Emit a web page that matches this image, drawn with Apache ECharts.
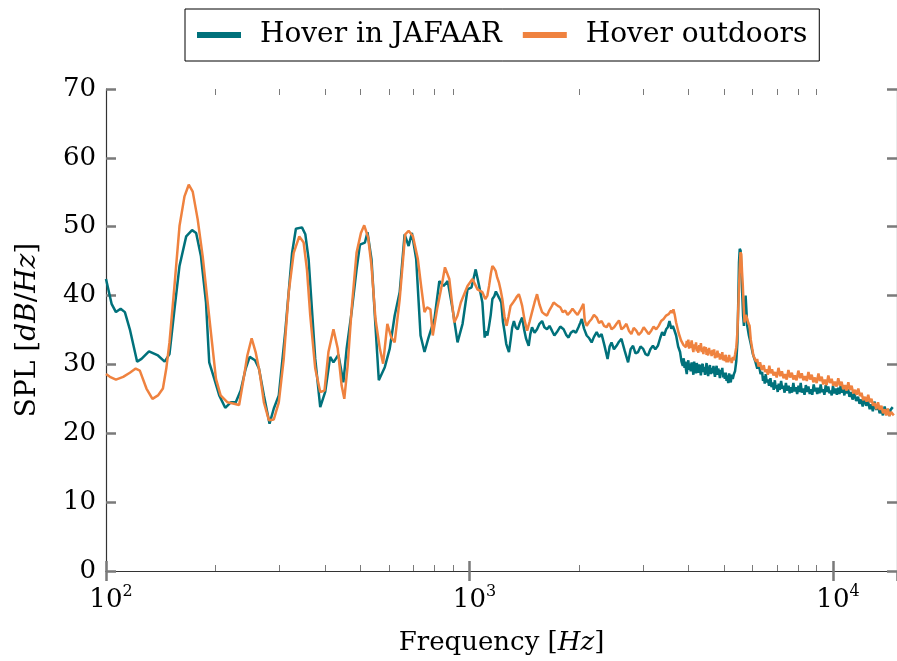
<!DOCTYPE html>
<html>
<head>
<meta charset="utf-8">
<script src="https://cdn.jsdelivr.net/npm/echarts@6/dist/echarts.min.js"></script>
<style>
  html, body { margin: 0; padding: 0; background: #fff; }
  #spl-chart { width: 897px; height: 661px; }
</style>
</head>
<body>
<div id="spl-chart"></div>
<script>
// [frequency Hz, SPL dB/Hz]
var jafaarPoints = [
    [100,42.4],[103.6,38.8],[106.5,37.6],[109.7,38.1],[112.7,37.6],[116.3,35.1],[121.8,30.4],[125.2,30.8],
    [131.3,31.9],[139,31.3],[145,30.4],[149.5,31.5],[154.3,38.0],[159.3,44.3],[166.2,48.6],[172.5,49.5],
    [177,49.1],[182.5,45.7],[188.4,39.0],[192.3,30.3],[198.6,27.9],[204.9,25.5],[212.8,23.7],[220.4,24.5],
    [227.5,24.5],[234.7,26.2],[242.3,29.4],[248.5,31.1],[257,30.6],[263.5,29.4],[271.9,25.5],[281.8,21.4],
    [289.5,23.6],[298.8,25.5],[311.7,35.1],[325,46.2],[333,49.7],[346,49.9],[353.5,48.9],[360.9,45.3],
    [368.6,38.0],[376.4,30.8],[388.5,23.8],[400.9,26.0],[413.7,31.1],[422.4,30.3],[435.9,31.4],[449.8,27.4],
    [459.2,32.3],[473.9,37.6],[489,43.8],[499.6,47.4],[515.6,47.7],[524,49.2],[537.5,45.3],[551.2,35.6],
    [563,27.7],[584.7,29.6],[603.4,32.3],[622.6,37.1],[642.7,40.5],[663,48.9],[680,47.2],[694.3,49.1],
    [713.4,45.3],[733.4,34.2],[752,31.8],[771.3,33.9],[801,36.6],[826,42.1],[849,41.4],[871,42.1],
    [898.7,38.0],[927,33.2],[957,35.9],[987.5,40.9],[1013,41.2],[1040,43.8],[1063,41.4],[1085,39.0],
    [1101,33.9],[1110,34.8],[1120,34.2],[1132,35.6],[1144,37.2],[1156,39.5],[1170,39.9],[1182,40.6],
    [1193,40.5],[1208,39.6],[1223,39.0],[1236,36.2],[1249,34.7],[1262,33.0],[1272,32.4],[1284,31.8],
    [1298,33.6],[1310,35.3],[1325,36.3],[1340,35.4],[1358,35.1],[1375,36.0],[1396,36.8],[1412,35.2],
    [1430,33.8],[1455,32.7],[1470,34.4],[1486,35.4],[1510,34.6],[1534,35.1],[1558,35.9],[1584,36.3],
    [1607,35.4],[1634,35.1],[1660,35.6],[1686,34.9],[1712,34.2],[1740,34.7],[1777,35.5],[1815,35.1],
    [1845,34.3],[1873,33.9],[1900,34.6],[1932,34.9],[1962,34.6],[1994,35.4],[2015,36.0],[2036,36.6],
    [2066,35.2],[2101,34.2],[2135,33.8],[2168,33.2],[2200,34.0],[2238,34.7],[2272,34.0],[2309,34.4],
    [2350,32.8],[2398,30.8],[2430,32.6],[2459,33.2],[2497,32.2],[2538,32.7],[2578,33.3],[2618,33.7],
    [2672,32.0],[2731,30.3],[2775,32.2],[2818,32.7],[2862,31.6],[2909,31.8],[2955,32.6],[3001,32.3],
    [3050,31.5],[3097,31.3],[3145,32.2],[3196,32.7],[3245,32.2],[3298,32.7],[3345,33.8],[3389,34.7],
    [3430,34.2],[3475,35.1],[3512,35.4],[3549,36.3],[3590,35.2],[3626,35.6],[3660,35.0],[3702,34.2],
    [3750,32.6],[3796,31.8],[3830,30.4],
    [3862,29.8],[3885,30.9],[3905,29.5],[3925,30.4],[3940,29.3],[3960,28.6],[3980,29.9],[4000,30.6],
    [4020,29.2],[4040,30.1],[4060,29.0],[4085,30.3],[4111,29.4],[4130,28.5],[4150,30.4],[4175,29.6],
    [4200,28.7],[4220,30.2],[4240,29.5],[4262,28.8],[4286,30.0],[4310,29.3],[4330,28.4],[4355,29.8],
    [4380,30.1],[4400,28.9],[4420,29.6],[4445,28.5],[4467,29.5],[4490,30.2],[4510,29.0],[4535,28.3],
    [4560,29.4],[4585,29.9],[4610,28.6],[4635,29.5],[4663,28.7],[4690,29.8],[4710,28.9],[4735,28.2],
    [4760,29.3],[4785,29.8],[4810,28.5],[4835,29.4],[4861,28.8],[4885,28.0],[4910,29.2],[4935,28.6],
    [4960,29.5],[4985,28.1],[5010,28.8],[5040,27.9],[5070,28.8],[5095,27.6],[5120,28.4],[5150,27.3],
    [5180,28.7],[5205,27.9],[5233,27.4],[5265,28.5],[5300,27.9],[5340,28.6],[5376,29.0],
    [5420,30.5],[5458,33.2],[5490,39.5],[5513,44.8],[5540,46.8],[5571,46.5],[5600,43.0],[5630,40.0],
    [5660,37.0],[5689,35.6],[5720,38.5],[5749,40.0],[5780,37.8],[5808,35.6],[5870,34.2],[5930,33.2],
    [6020,31.5],
    [6124,30.3],[6190,29.4],[6250,30.0],[6320,28.6],[6383,28.9],[6420,27.6],[6450,28.3],[6490,27.2],
    [6530,28.6],[6575,27.4],[6620,27.8],[6670,26.9],[6729,28.0],[6775,26.7],[6820,27.4],[6870,26.3],
    [6920,27.7],[6960,26.5],[7000,27.0],[7045,26.0],[7089,27.2],[7140,26.3],[7200,27.6],[7250,26.5],
    [7300,26.9],[7360,25.9],[7420,27.3],[7480,26.2],[7551,26.9],[7600,25.8],[7650,26.7],[7710,25.9],
    [7780,27.3],[7840,26.1],[7900,26.7],[7970,25.7],[8037,26.9],[8090,26.0],[8150,27.3],[8210,25.9],
    [8280,26.5],[8350,25.6],[8420,27.0],[8490,26.0],[8559,26.8],[8630,25.7],[8700,26.4],[8770,25.6],
    [8850,27.1],[8920,26.1],[8980,26.6],[9050,25.7],[9116,26.6],[9180,25.8],[9250,27.1],[9320,26.0],
    [9400,26.4],[9470,25.6],[9550,27.0],[9630,26.0],[9706,26.8],[9780,25.8],[9850,26.2],[9920,25.5],
    [10000,26.9],[10080,25.8],[10170,26.5],[10250,25.6],[10340,26.6],[10420,25.7],[10500,27.0],[10580,25.9],
    [10670,26.5],[10750,25.5],[10840,26.9],[10920,25.8],[11010,26.4],[11100,25.3],[11200,26.0],[11320,24.9],
    [11450,25.8],[11580,24.7],[11720,25.3],[11830,24.3],[11950,24.9],[12070,23.9],[12200,25.1],[12340,24.0],
    [12490,24.6],[12620,23.5],[12750,24.2],[12870,23.2],[13000,24.6],[13150,23.4],[13300,24.0],[13440,22.9],
    [13580,23.6],[13720,22.6],[13870,23.9],[14010,22.8],[14160,23.5],[14280,22.5],[14400,23.4],[14600,23.8]
];

var outdoorPoints = [
    [100,28.6],[102.5,28.2],[106.5,27.8],[111.5,28.2],[116.3,28.8],[120.7,29.4],[123.9,29.1],[129.2,26.5],
    [134.2,25.0],[139,25.5],[143.4,26.5],[146.5,29.4],[149.5,33.2],[154.3,41.4],[159.3,50.1],[164.4,54.4],
    [168.9,56.1],[173.2,55.1],[178.7,51.1],[184.5,45.7],[190.4,39.0],[195.7,33.2],[200.7,27.9],[206.7,25.5],
    [215.9,24.5],[225.2,24.3],[232.4,24.1],[238.2,27.4],[244.8,31.3],[251.6,33.8],[258,31.8],[264.6,28.9],
    [271.9,24.5],[280.6,21.9],[289.5,22.0],[298.8,24.5],[308.3,30.8],[318.2,40.5],[328.4,46.2],[340.2,48.6],
    [349.7,47.7],[357.1,43.8],[364.7,37.1],[376.4,29.4],[388.5,26.0],[399.1,26.2],[409.2,31.8],[422.4,35.1],
    [434,32.3],[445,26.9],[452.5,25.0],[462.1,29.8],[473.9,38.0],[489,46.2],[502.7,49.1],[513.3,50.2],
    [526.4,48.4],[537.5,44.3],[551.2,36.6],[566.7,32.3],[578.6,30.1],[594.3,35.9],[609.5,33.9],[622.6,33.2],
    [642.7,39.5],[665.3,48.9],[680,49.4],[698.8,48.6],[721,45.3],[736,41.4],[752,37.6],[764.5,38.3],
    [780.8,38.0],[792.5,34.2],[814.2,38.0],[835,40.9],[856,44.1],[880,42.4],[908,36.1],[927,37.1],
    [946.6,39.0],[987.5,41.4],[1019,42.4],[1052,40.9],
    [1085,40.5],[1105,39.5],[1120,40.0],[1132,41.4],[1145,43.2],[1156,44.3],[1168,44.0],[1180,43.6],
    [1192,42.6],[1205,41.9],[1218,40.8],[1231,39.5],[1248,37.0],[1265,35.6],[1280,36.9],[1297,38.5],
    [1318,39.0],[1338,39.5],[1352,39.9],[1367,40.2],[1382,39.4],[1396,38.5],[1418,36.4],[1441,34.9],
    [1463,36.2],[1486,37.6],[1510,39.0],[1534,40.2],[1558,38.7],[1584,37.6],[1608,37.3],[1634,37.1],
    [1660,37.9],[1686,38.5],[1704,39.0],[1722,39.2],[1750,38.5],[1777,38.3],[1805,37.6],[1834,37.8],
    [1862,37.2],[1892,37.6],[1920,38.1],[1952,37.6],[1983,37.2],[2014,37.8],[2036,38.3],[2058,38.8],
    [2075,36.4],[2101,35.6],[2135,36.2],[2168,36.6],[2200,37.2],[2238,36.8],[2272,36.0],[2309,36.3],
    [2345,35.6],[2383,35.4],[2420,36.0],[2459,35.1],[2500,35.4],[2538,35.9],[2578,36.4],[2618,35.1],
    [2660,35.4],[2702,35.9],[2745,34.9],[2788,34.4],[2830,35.3],[2877,34.9],[2920,34.3],[2969,34.7],
    [3015,35.4],[3064,34.9],[3110,34.4],[3162,34.9],[3210,35.5],[3263,35.1],[3315,35.6],[3367,36.3],
    [3420,36.6],[3475,37.1],[3530,37.3],[3586,37.8],[3615,37.5],[3639,38.0],[3670,37.2],[3702,36.1],
    [3760,34.6],[3819,33.5],[3880,32.8],
    [3940,32.5],[3960,33.4],[3980,32.6],[4000,33.6],[4020,32.3],[4040,33.2],[4060,32.4],[4085,33.5],
    [4111,32.3],[4130,31.8],[4150,32.9],[4175,32.2],[4200,33.2],[4220,31.9],[4240,32.6],[4262,31.7],
    [4286,32.8],[4310,32.0],[4330,33.1],[4355,31.8],[4380,32.4],[4400,31.5],[4420,32.6],[4445,31.9],
    [4467,32.5],[4490,31.4],[4510,32.2],[4535,31.3],[4560,32.4],[4585,31.6],[4610,32.0],[4635,31.2],
    [4663,32.1],[4690,31.4],[4710,32.2],[4735,30.9],[4760,31.7],[4785,31.0],[4810,32.0],[4835,31.1],
    [4861,31.6],[4885,30.7],[4910,31.5],[4935,30.8],[4960,31.8],[4985,30.6],[5010,31.3],[5040,30.5],
    [5070,31.4],[5095,30.3],[5120,31.0],[5150,30.3],[5180,31.4],[5205,30.5],[5233,30.9],[5265,30.2],
    [5300,31.1],[5340,30.6],[5376,31.4],
    [5420,32.5],[5458,34.7],[5500,39.5],[5537,43.8],[5565,46.3],[5594,46.0],[5620,43.5],[5649,41.4],
    [5680,38.4],[5712,36.1],[5760,37.2],[5808,36.6],[5850,36.0],[5896,35.6],[5940,33.6],
    [5995,32.3],[6040,31.3],[6090,31.5],[6140,30.4],[6185,30.8],[6240,29.7],[6300,30.3],[6370,29.2],
    [6450,29.9],[6500,28.9],[6560,29.3],[6620,28.5],[6680,29.8],[6740,28.7],[6798,29.3],[6860,28.4],
    [6930,28.9],[7000,28.1],[7080,29.5],[7160,28.3],[7236,29.0],[7310,28.0],[7380,28.6],[7460,27.8],
    [7540,29.2],[7620,28.1],[7705,28.8],[7780,27.8],[7850,28.4],[7940,27.7],[8030,29.1],[8120,28.0],
    [8204,28.7],[8290,27.7],[8380,28.3],[8470,27.6],[8560,28.9],[8650,27.8],[8739,28.5],[8830,27.4],
    [8920,28.1],[9020,27.3],[9120,28.7],[9210,27.6],[9311,28.2],[9400,27.1],[9500,27.8],[9600,27.0],
    [9710,28.4],[9810,27.3],[9917,27.9],[10020,26.9],[10120,27.5],[10230,26.8],[10340,28.0],[10450,26.9],
    [10560,27.5],[10670,26.4],[10780,27.0],[10900,26.2],[11020,27.4],[11130,26.3],[11250,26.9],[11370,25.8],
    [11500,26.3],[11620,25.6],[11740,26.5],[11860,25.4],[11980,25.9],[12110,24.8],[12240,25.3],[12370,24.6],
    [12500,25.6],[12630,24.5],[12760,25.0],[12890,24.0],[13020,24.4],[13160,23.5],[13300,24.5],[13440,23.4],
    [13590,24.0],[13730,22.9],[13870,23.5],[14010,22.6],[14150,23.6],[14300,22.5],[14450,23.1],[14700,22.6]
];

var seriesNames = ['Hover in JAFAAR', 'Hover outdoors'];
var seriesColors = ['#00717b', '#ef823f'];
var minorTicks = [200, 300, 400, 500, 600, 700, 800, 900, 2000, 3000, 4000, 5000, 6000, 7000, 8000, 9000];
var exponentLabels = { 100: '2', 1000: '3', 10000: '4' };

var serif = 'DejaVu Serif';
var tickGray = '#7a7a7a';

var chart = echarts.init(document.getElementById('spl-chart'));

// log axis minor ticks (2..9 x decade), top and bottom, inward
function minorTickItem(params, api) {
    var pt = api.coord([api.value(0), 10]);
    var cs = params.coordSys;
    var x = Math.round(pt[0]) + 0.5;
    var style = { stroke: tickGray, lineWidth: 1 };
    return {
        type: 'group',
        children: [
            { type: 'line', shape: { x1: x, y1: cs.y + cs.height, x2: x, y2: cs.y + cs.height - 6 }, style: style },
            { type: 'line', shape: { x1: x, y1: cs.y, x2: x, y2: cs.y + 6 }, style: style }
        ]
    };
}

var axisLine = { show: true, lineStyle: { color: '#333', width: 1.2 } };
var majorTick = { show: true, inside: true, length: 10, lineStyle: { color: tickGray, width: 2.5 } };

var option = {
    animation: false,
    backgroundColor: '#fff',
    legend: {
        data: seriesNames,
        left: 185,
        top: 9,
        padding: [12, 12, 12, 12],
        borderColor: '#000',
        borderWidth: 1,
        borderRadius: 0,
        icon: 'rect',
        itemWidth: 44,
        itemHeight: 6,
        itemGap: 21,
        textStyle: { fontFamily: serif, fontSize: 28, color: '#000', padding: [0, 0, 0, 14] }
    },
    grid: { left: 106, top: 89, right: -5, bottom: 88, containLabel: false },
    xAxis: [{
        type: 'log',
        logBase: 10,
        min: 100,
        max: 15000,
        position: 'bottom',
        name: 'Frequency [{i|Hz}]',
        nameLocation: 'middle',
        nameGap: 59,
        nameTextStyle: {
            fontFamily: serif, fontSize: 26, color: '#000',
            rich: { i: { fontFamily: serif, fontSize: 26, fontStyle: 'italic', color: '#000' } }
        },
        axisLine: axisLine,
        axisTick: majorTick,
        splitLine: { show: false },
        axisLabel: {
            margin: 13,
            showMaxLabel: false,
            formatter: function (v) {
                var e = exponentLabels[Math.round(v)];
                return e ? '{b|10}{s|' + e + '}' : '';
            },
            rich: {
                b: { fontFamily: serif, fontSize: 26, color: '#000', padding: [0, 0, 0, 10], lineHeight: 32 },
                s: { fontFamily: serif, fontSize: 16, color: '#000', verticalAlign: 'top', lineHeight: 14 }
            }
        }
    }, {
        type: 'log',
        logBase: 10,
        min: 100,
        max: 15000,
        position: 'top',
        axisLine: axisLine,
        axisTick: majorTick,
        axisLabel: { show: false },
        splitLine: { show: false }
    }],
    yAxis: [{
        type: 'value',
        min: 0,
        max: 70,
        interval: 10,
        position: 'left',
        name: 'SPL [{i|dB}/{i|Hz}]',
        nameLocation: 'middle',
        nameRotate: 90,
        nameGap: 64,
        nameTextStyle: {
            fontFamily: serif, fontSize: 28, color: '#000',
            rich: { i: { fontFamily: serif, fontSize: 28, fontStyle: 'italic', color: '#000' } }
        },
        axisLine: axisLine,
        axisTick: majorTick,
        splitLine: { show: false },
        axisLabel: { fontFamily: serif, fontSize: 26, color: '#000', margin: 10 }
    }, {
        type: 'value',
        min: 0,
        max: 70,
        interval: 10,
        position: 'right',
        axisLine: axisLine,
        axisTick: majorTick,
        axisLabel: { show: false },
        splitLine: { show: false }
    }],
    series: [{
        name: seriesNames[0],
        type: 'line',
        data: jafaarPoints,
        showSymbol: false,
        color: seriesColors[0],
        lineStyle: { width: 2.5, color: seriesColors[0] },
        z: 3
    }, {
        name: seriesNames[1],
        type: 'line',
        data: outdoorPoints,
        showSymbol: false,
        color: seriesColors[1],
        lineStyle: { width: 2.5, color: seriesColors[1] },
        z: 4
    }, {
        name: 'minor ticks',
        type: 'custom',
        silent: true,
        clip: false,
        renderItem: minorTickItem,
        data: minorTicks.map(function (f) { return [f, 10]; }),
        z: 5
    }]
};

chart.setOption(option);
</script>
</body>
</html>
